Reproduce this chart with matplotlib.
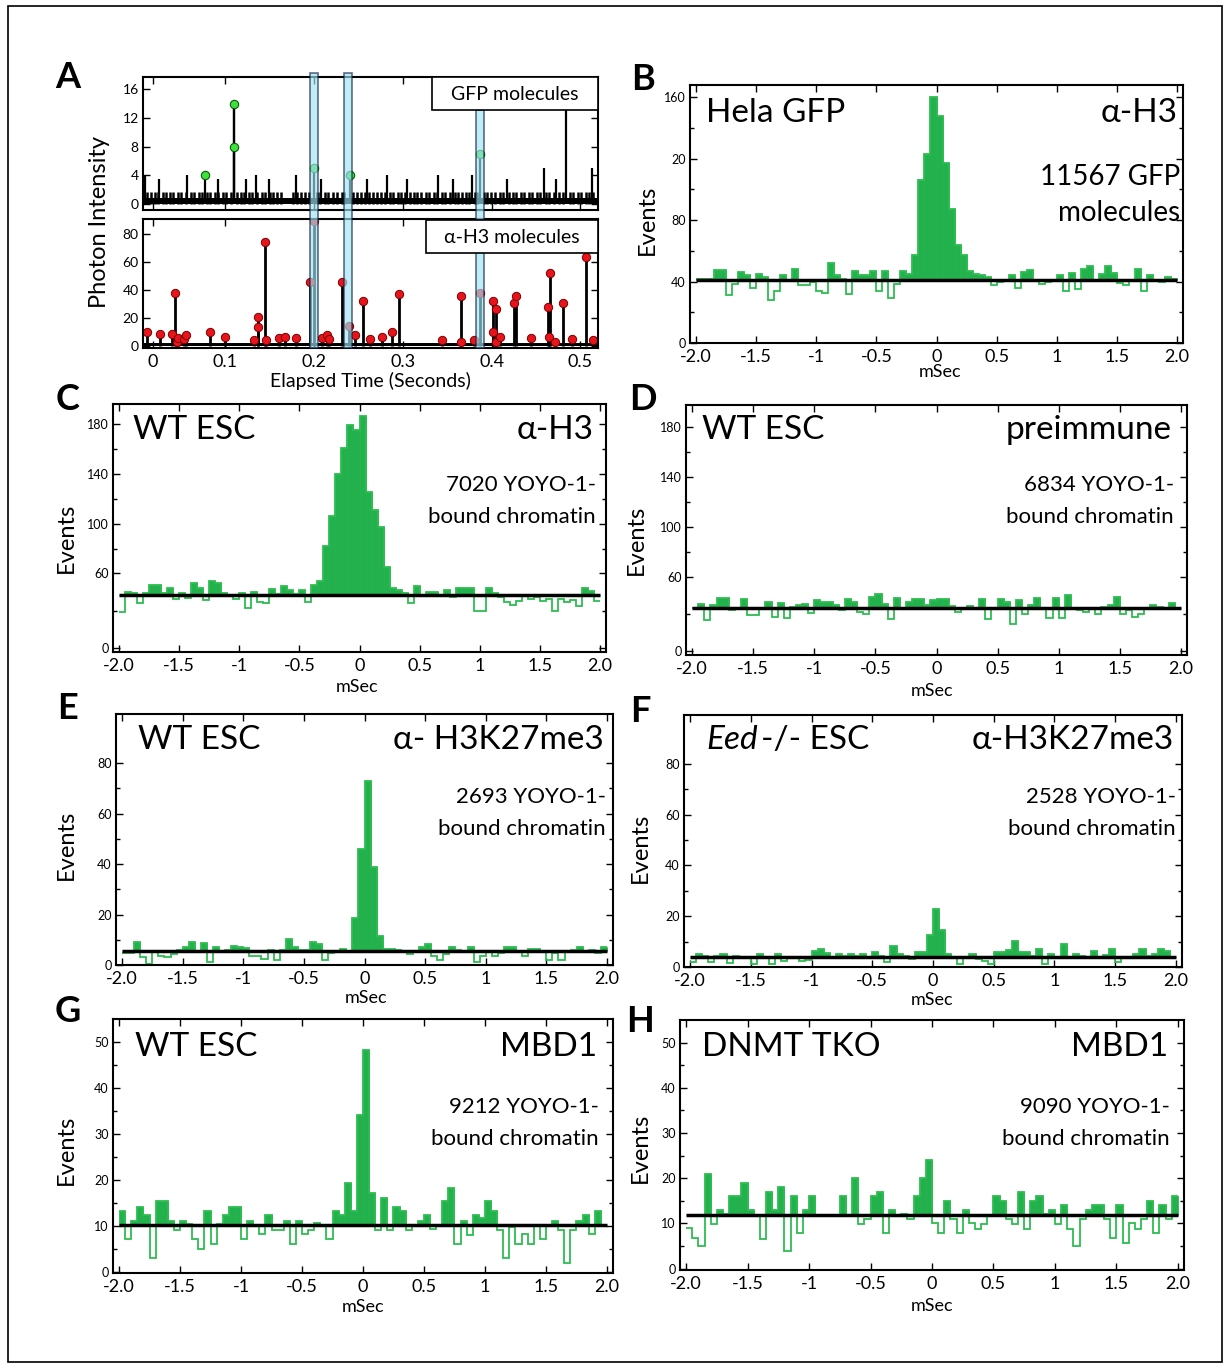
import numpy as np
import matplotlib.pyplot as plt
from matplotlib.patches import Rectangle
from matplotlib.transforms import blended_transform_factory

plt.rcParams['font.family'] = ['Lato', 'DejaVu Sans']

# ---- panel A data ----
gfp_level2 = [0.012, 0.016, 0.021, 0.024, 0.029, 0.033, 0.038, 0.041, 0.046, 0.050, 0.055, 0.061,
              0.064, 0.070, 0.074, 0.079, 0.083, 0.088, 0.091, 0.097, 0.101, 0.106, 0.113, 0.117,
              0.121, 0.127, 0.130, 0.136, 0.141, 0.144, 0.150, 0.154, 0.158, 0.163, 0.176, 0.181,
              0.185, 0.190, 0.194, 0.203, 0.207, 0.212, 0.216, 0.221, 0.226, 0.231, 0.234, 0.244,
              0.248, 0.253, 0.257, 0.262, 0.266, 0.271, 0.275, 0.280, 0.285, 0.289, 0.294, 0.298,
              0.302, 0.308, 0.312, 0.316, 0.321, 0.326, 0.330, 0.335, 0.338, 0.344, 0.348, 0.353,
              0.359, 0.362, 0.367, 0.371, 0.375, 0.381, 0.384, 0.391, 0.395, 0.399, 0.404, 0.409,
              0.413, 0.420, 0.424, 0.428, 0.433, 0.437, 0.442, 0.446, 0.451, 0.455, 0.461, 0.465,
              0.470, 0.476, 0.480, 0.488, 0.492, 0.497, 0.501, 0.506, 0.510, 0.514]
gfp_spike_t = [0.0096, 0.025, 0.057, 0.092, 0.11, 0.123, 0.134, 0.149, 0.179, 0.208, 0.259,
               0.282, 0.305, 0.34, 0.357, 0.378, 0.417, 0.459, 0.473, 0.484, 0.513]
gfp_spike_h = [4, 3.5, 4, 3.5, 14, 3.5, 4, 3.5, 4, 3.5, 3.5, 4, 3.5, 4, 3.5, 4, 3.5, 5, 3.5, 13.5, 5]
gfp_mark_t = [0.077, 0.11, 0.11, 0.2, 0.24, 0.387]
gfp_mark_h = [4, 14, 8, 5, 4, 7]

h3_t = [0.012, 0.026, 0.04, 0.043, 0.045, 0.046, 0.053, 0.055, 0.082, 0.1, 0.132, 0.137, 0.137,
        0.145, 0.146, 0.16, 0.167, 0.18, 0.195, 0.2, 0.209, 0.215, 0.217, 0.231, 0.239, 0.246,
        0.255, 0.263, 0.276, 0.288, 0.296, 0.344, 0.365, 0.366, 0.38, 0.387, 0.402, 0.402,
        0.405, 0.405, 0.41, 0.425, 0.427, 0.444, 0.464, 0.466, 0.465, 0.472, 0.481, 0.491,
        0.506, 0.514]
h3_h = [9.8, 8.8, 8.8, 38.2, 2.6, 5.7, 4.6, 7.7, 9.8, 6.7, 3.9, 20.6, 13.4, 74.8, 3.9, 5.7, 6.7,
        5.7, 45.7, 89.8, 5.7, 7.7, 4.6, 45.7, 14.2, 7.7, 32, 4.6, 6.7, 9.8, 37.2, 3.9, 36.1, 2.6,
        3.9, 38.2, 32, 9.8, 26.8, 2.6, 6.7, 31, 35.6, 5.7, 27.9, 52.4, 6.7, 3.1, 31, 4.6, 64, 3.9]
band_t = [0.2, 0.2385, 0.387]

# ---- cross-correlation histograms, 80 bins from -2 to 2 ms ----
hist_B = [42, 42, 42, 47.7, 47.7, 31.4, 38.5, 46, 44, 36, 45, 43, 28, 34, 44, 41, 48.5, 38, 38, 40,
          34, 32.7, 52, 44, 41.7, 32, 47, 44, 44, 47, 34, 47, 29, 38.5, 47, 45, 57, 106, 123, 160,
          148, 117, 87, 64, 57, 47, 45, 44, 43, 38, 39.5, 41, 44, 35.7, 46, 47.7, 40.6, 38.5, 39.5,
          41, 44, 34, 45.5, 35, 48.5, 50, 41, 45, 50, 45.5, 39, 38, 41, 48, 34, 44, 41, 40, 43, 42]
hist_C = [29, 45.5, 44.7, 36, 44, 50.5, 50.5, 44, 48, 39.5, 44, 40, 52.6, 48.7, 38.7, 54, 52, 44.7,
          43, 39.5, 44.7, 32.4, 45.5, 36.8, 36.3, 47.4, 43.4, 50, 46.8, 43.4, 46.8, 36.8, 51, 54,
          82, 106, 140, 160.5, 179, 175, 186, 125.5, 111, 97, 65, 48, 46.6, 44.7, 36, 50, 43, 45.5,
          45.5, 43, 46.8, 40.8, 48, 48, 48, 29.5, 29.5, 48, 44, 40.8, 36.8, 35, 38, 43, 39.5, 40.8,
          38, 39.5, 29.5, 39.5, 36.8, 38.7, 34, 48, 46, 37.6]
hist_D = [34.5, 38, 25, 37, 42.6, 42.6, 33, 35, 42, 29, 29.5, 35, 39.5, 27.6, 39, 27, 35.5, 37, 38,
          31, 41, 40, 40, 37, 33, 42, 39.5, 31.6, 30, 44, 46, 38, 26, 42.6, 34.5, 39.5, 42, 42, 37,
          41, 42, 42, 36, 31.6, 33.7, 36.3, 34.5, 42, 26, 34.5, 42, 39.5, 21.6, 41, 30, 37, 42.6,
          35, 27, 42.6, 27, 45, 35, 33, 31.6, 33.7, 30, 35.5, 37, 44, 30, 33, 27.6, 30, 33.7, 37,
          35.5, 33.7, 39, 33.7]
hist_E = [4.7, 4.7, 9.2, 3, 0.5, 5.4, 3.7, 3, 4.3, 6, 7.3, 9.3, 5.4, 8.7, 1, 7.3, 5.4, 6, 7.6, 7,
          6.6, 3.4, 3.4, 2.4, 6, 2, 6, 10.5, 7.3, 6, 6, 9.2, 8.3, 2, 4.7, 5.6, 6.3, 5, 18.5, 46, 73,
          38.7, 11.3, 6.3, 6.3, 6, 5.4, 4.3, 5, 7.3, 8.3, 3.4, 2, 4.3, 7.3, 6, 5, 7, 1, 3.7, 5.4,
          3.4, 4.7, 7, 7.3, 5.4, 3.4, 6.3, 6.3, 5.4, 2, 4.7, 2, 5.4, 6, 7.3, 5.4, 6, 4.7, 7.3]
hist_F = [2, 5, 4.2, 2, 4.2, 5, 1.7, 4.2, 3.9, 3.9, 1.3, 5, 3.7, 1.3, 5.3, 2.4, 3.9, 3.9, 2.4, 2.6,
          6.3, 7.2, 5.5, 3.7, 5, 4.2, 5, 4.5, 5, 3.9, 5.9, 4.2, 2, 8.2, 5.3, 4.2, 3.3, 5.9, 5.9, 12.5,
          23, 14.5, 5, 3.9, 1.3, 3.7, 5, 3.3, 2.4, 1.3, 5.9, 5.9, 6.8, 10.3, 5.9, 5.9, 4.2, 7.2, 1.3,
          5, 3.9, 8.9, 3.7, 5, 4.2, 3.7, 6.3, 3.9, 4.6, 7.2, 2, 3.7, 3.7, 5, 7.2, 4.2, 5, 7.2, 6.3, 3.7]
hist_G = [13.2, 7, 11, 14, 12.4, 2.9, 15.3, 15.3, 11, 9, 11, 10.4, 7, 5, 13.2, 6, 10.4, 12.4, 14, 14,
          7, 11, 10.2, 8.1, 12.4, 9, 9, 11, 6, 11, 8.1, 9, 10.6, 10.2, 7, 13.2, 12.4, 19.2, 13.2, 34,
          48.2, 17.2, 9, 16.1, 9, 14, 13.2, 9, 10.2, 11, 12.4, 9.3, 9.9, 15.3, 18.2, 6, 11, 8, 12.4,
          11.7, 15.3, 13.2, 9, 2.9, 9.7, 6, 8.2, 6, 10.2, 7, 10.2, 11, 9, 1.9, 9, 11, 12.4, 8.1, 13.2, 9.9]
hist_H = [9, 6.8, 4.9, 21, 9.8, 13, 12, 16, 16, 19, 13, 11.8, 6.6, 17, 13, 18, 3.8, 16, 7.8, 13,
          16, 11.8, 11.8, 11.8, 11.8, 16, 11.9, 20, 9.8, 10.9, 16, 17, 7.8, 13, 11.8, 12, 10.9, 16,
          20, 24, 10, 7.8, 15, 10.9, 7.8, 13, 10, 8.8, 9.8, 11.8, 16, 15, 10.9, 9.8, 17, 8.8, 15, 16,
          12, 13, 9.8, 14, 8.8, 4.9, 10.9, 13, 14, 14, 10.9, 6.8, 14, 5.7, 10, 8.8, 10.9, 15, 7.8,
          14, 10.9, 16]
baselines = {'B': 41, 'C': 43, 'D': 35, 'E': 5.4, 'F': 3.9, 'G': 10.2, 'H': 11.8}

x_ticks = [-2, -1.5, -1, -0.5, 0, 0.5, 1, 1.5, 2]
x_tick_labels = ['-2.0', '-1.5', '-1', '-0.5', '0', '0.5', '1', '1.5', '2.0']

W, H = 1230, 1368
GREEN = '#22b14c'
LINE_GREEN = '#2cbd4f'

fig = plt.figure(figsize=(W / 100, H / 100), dpi=100)


def rect(l, t, r, b):
    return [l / W, 1 - b / H, (r - l) / W, (b - t) / H]


def put(x, y, s, **kw):
    return fig.text(x / W, 1 - y / H, s, **kw)


def frame(ax):
    for sp in ax.spines.values():
        sp.set_linewidth(1.5)
    ax.tick_params(which='both', direction='in', top=True, right=True, width=1)
    ax.tick_params(which='major', length=5)
    ax.tick_params(which='minor', length=3)


def hist_panel(box, vals, base, ylim, yticks, ylabels):
    ax = fig.add_axes(rect(*box))
    v = np.asarray(vals, float)
    edges = np.linspace(-2, 2, len(v) + 1)
    ax.bar(edges[:-1], np.clip(v - base, 0, None), width=edges[1] - edges[0], bottom=base,
           align='edge', color=GREEN, edgecolor=GREEN, linewidth=0.5, zorder=2)
    ax.stairs(v, edges, baseline=None, color=LINE_GREEN, linewidth=1.3, zorder=2)
    ax.hlines(base, -2, 2, color='black', linewidth=2.5, zorder=3)
    ax.set_xlim(-2.05, 2.05)
    ax.set_ylim(*ylim)
    ax.set_xticks(x_ticks, x_tick_labels)
    ax.set_yticks(yticks, ylabels)
    ax.set_yticks(np.convolve(yticks, [0.5, 0.5], 'valid'), minor=True)
    frame(ax)
    ax.tick_params(axis='x', labelsize=13, pad=4)
    ax.tick_params(axis='y', labelsize=9, pad=3)
    return ax


# ---- panel A ----
axA1 = fig.add_axes(rect(143, 77, 598, 210))
axA2 = fig.add_axes(rect(143, 219, 598, 348))
for ax in (axA1, axA2):
    ax.set_facecolor('none')
    ax.set_xlim(0.007, 0.52)
    frame(ax)

axA1.fill_between([0.007, 0.52], 0, 0.8, color='black', linewidth=0)
axA1.vlines(gfp_level2, 0, 1.7, color='black', linewidth=1.8)
axA1.vlines(gfp_spike_t, 0, gfp_spike_h, color='black', linewidth=1.6)
axA1.vlines(gfp_mark_t, 0, gfp_mark_h, color='black', linewidth=1.6)
axA1.plot(gfp_mark_t, gfp_mark_h, 'o', mfc='#3ee03e', mec='#0a5a0a', ms=6, mew=0.8)
axA1.set_ylim(-0.8, 17.7)
axA1.set_yticks([0, 4, 8, 12, 16])
axA1.set_xticks([0.018, 0.1, 0.2, 0.3, 0.4, 0.5], [])
axA1.tick_params(axis='y', labelsize=10, pad=3)

axA2.fill_between([0.007, 0.52], 0, 1.8, color='black', linewidth=0)
axA2.vlines(h3_t, 0, h3_h, color='black', linewidth=2)
axA2.plot(h3_t, h3_h, 'o', mfc='#e8141c', mec='#7a0000', ms=6, mew=0.7)
axA2.set_ylim(-1.5, 91)
axA2.set_yticks([0, 20, 40, 60, 80])
axA2.set_xticks([0.018, 0.1, 0.2, 0.3, 0.4, 0.5], ['0', '0.1', '0.2', '0.3', '0.4', '0.5'])
axA2.tick_params(axis='x', labelsize=13, pad=4)
axA2.tick_params(axis='y', labelsize=10, pad=3)

tr = blended_transform_factory(axA2.transData, fig.transFigure)
for t, top in zip(band_t, [73, 73, 110]):
    fig.add_artist(Rectangle((t - 0.0045, 1 - 348 / H), 0.009, (348 - top) / H, transform=tr,
                             facecolor='#9fe3f2', alpha=0.65, edgecolor='#102040', linewidth=1.2,
                             zorder=5))

for (l, t, r, b), label in [((432, 77, 598, 110), 'GFP molecules'),
                            ((426, 220, 598, 253), 'α-H3 molecules')]:
    fig.add_artist(Rectangle((l / W, 1 - b / H), (r - l) / W, (b - t) / H, transform=fig.transFigure,
                             facecolor='white', edgecolor='black', linewidth=1.2, zorder=6))
    put((l + r) / 2, (t + b) / 2 + 1, label, ha='center', va='center', fontsize=14, zorder=7)

put(100, 222, 'Photon Intensity', rotation=90, ha='center', va='center', fontsize=17)
put(370, 381, 'Elapsed Time (Seconds)', ha='center', va='center', fontsize=14)

# ---- histogram panels ----
hist_panel((690, 85, 1183, 343), hist_B, baselines['B'], (0, 168),
           [0, 40, 80, 120, 160], ['0', '40', '80', '20', '160'])
hist_panel((113, 404, 606, 652), hist_C, baselines['C'], (-3, 196),
           [0, 60, 100, 140, 180], ['0', '60', '100', '140', '180'])
hist_panel((686, 405, 1187, 655), hist_D, baselines['D'], (-3, 198),
           [0, 60, 100, 140, 180], ['0', '60', '100', '140', '180'])
hist_panel((116, 714, 613, 965), hist_E, baselines['E'], (0, 99.5),
           [0, 20, 40, 60, 80], ['0', '20', '40', '60', '80'])
hist_panel((684, 715, 1182, 967), hist_F, baselines['F'], (0, 99.3),
           [0, 20, 40, 60, 80], ['0', '20', '40', '60', '80'])
hist_panel((113, 1019, 613, 1273), hist_G, baselines['G'], (-0.3, 55),
           [0, 10, 20, 30, 40, 50], ['0', '10', '20', '30', '40', '50'])
hist_panel((680, 1020, 1184, 1270), hist_H, baselines['H'], (-0.3, 55),
           [0, 10, 20, 30, 40, 50], ['0', '10', '20', '30', '40', '50'])

# panel captions
put(706, 113, 'Hela GFP', ha='left', va='center', fontsize=24)
put(1178, 113, 'α-H3', ha='right', va='center', fontsize=24)
put(1180, 177, '11567 GFP', ha='right', va='center', fontsize=20)
put(1180, 213, 'molecules', ha='right', va='center', fontsize=20)

captions = [
    (133, 594, 430, 485, 'WT ESC', 'α-H3', '7020 YOYO-1-'),
    (702, 1172, 430, 485, 'WT ESC', 'preimmune', '6834 YOYO-1-'),
    (138, 604, 740, 797, 'WT ESC', 'α- H3K27me3', '2693 YOYO-1-'),
    (None, 1174, 740, 797, None, 'α-H3K27me3', '2528 YOYO-1-'),
    (135, 597, 1047, 1107, 'WT ESC', 'MBD1', '9212 YOYO-1-'),
    (702, 1168, 1047, 1107, 'DNMT TKO', 'MBD1', '9090 YOYO-1-'),
]
for xl, xr, ytop, ysub, left, right, sub in captions:
    if left is not None:
        put(xl, ytop, left, ha='left', va='center', fontsize=24)
    put(xr, ytop, right, ha='right', va='center', fontsize=24)
    put(xr + 2, ysub, sub, ha='right', va='center', fontsize=16)
    put(xr + 2, ysub + 32, 'bound chromatin', ha='right', va='center', fontsize=16)

renderer = fig.canvas.get_renderer()
eed = put(706, 740, 'Eed', ha='left', va='center', fontsize=24, style='italic')
bb = eed.get_window_extent(renderer)
put(bb.x1 + 3, 740, '-/- ESC', ha='left', va='center', fontsize=24)

for x, y in [(647, 220), (66, 538), (636, 540), (66, 845), (640, 848), (66, 1150), (640, 1148)]:
    put(x, y, 'Events', rotation=90, ha='center', va='center', fontsize=17)
for x, y in [(940, 372), (357, 687), (932, 691), (366, 998), (932, 1000), (363, 1307), (932, 1306)]:
    put(x, y, 'mSec', ha='center', va='center', fontsize=13)

for letter, x, y in [('A', 68, 78), ('B', 643, 80), ('C', 68, 400), ('D', 643, 400),
                     ('E', 68, 708), ('F', 640, 712), ('G', 68, 1012), ('H', 640, 1022)]:
    put(x, y, letter, ha='center', va='center', fontsize=26, fontweight='bold')

fig.add_artist(Rectangle((8 / W, 1 - 1362 / H), (1222 - 8) / W, (1362 - 6) / H,
                         transform=fig.transFigure, fill=False, edgecolor='black', linewidth=1.2))

fig.savefig('out.png', dpi=100)
